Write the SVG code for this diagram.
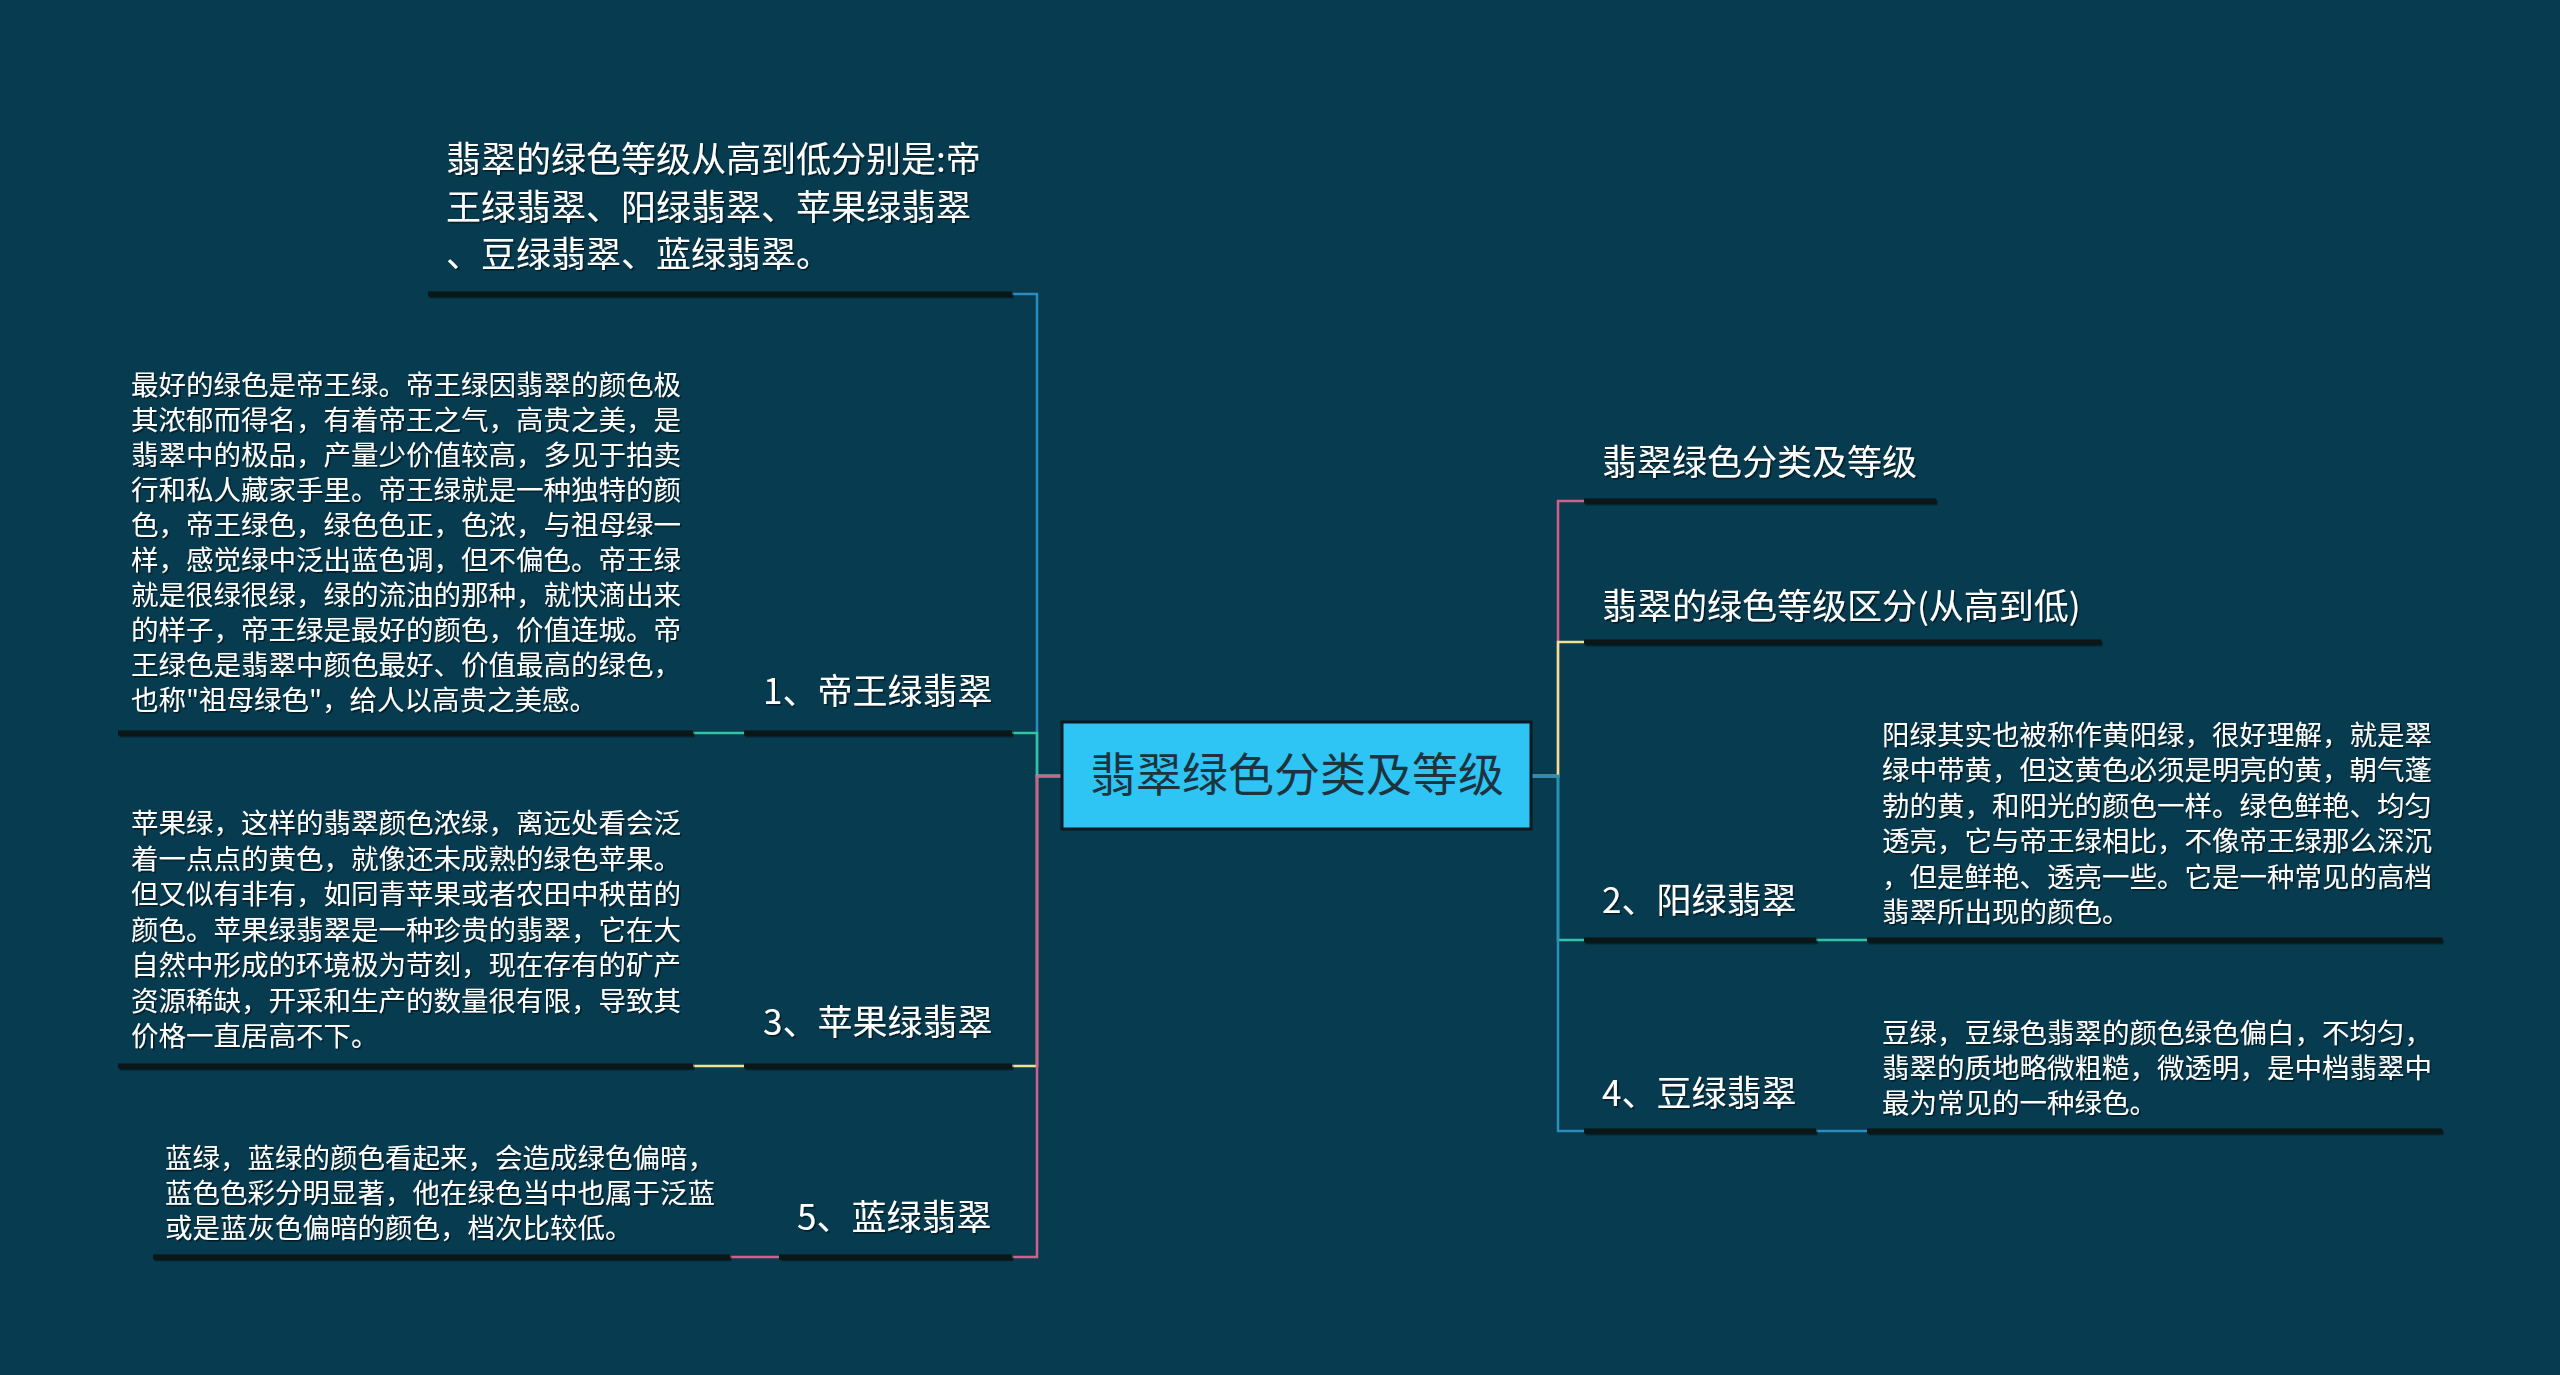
<svg xmlns="http://www.w3.org/2000/svg" width="2560" height="1375" viewBox="0 0 2560 1375">
<defs>
<style>
.t{font-family:"Noto Sans CJK SC","Noto Sans",sans-serif;fill:#ffffff;}
.lab{font-size:35px;}
.desc{font-size:27.5px;}
.ul{stroke:#0b1418;stroke-width:5;fill:none;}
.c{fill:none;stroke-width:2.5;}
.blue{stroke:#2b8dbf;}
.teal{stroke:#33c3a3;}
.yel{stroke:#efe28f;}
.pink{stroke:#d2608c;}
</style>
<filter id="sh" x="-5%" y="-20%" width="110%" height="140%">
<feDropShadow dx="1.5" dy="1.5" stdDeviation="0.6" flood-color="#000" flood-opacity="0.55"/>
</filter>
</defs>
<rect x="0" y="0" width="2560" height="1375" fill="#073b4f"/>

<g id="connectors">
<path class="c blue" d="M1062,776 H1037 V294 H1012"/>
<path class="c teal" d="M1062,776 H1037 V733 H1012 M744,733 H693"/>
<path class="c yel" d="M1062,776 H1037 V1066 H1012 M744,1066 H693"/>
<path class="c pink" d="M1062,776 H1037 V1257 H1012 M779,1257 H730"/>
<path class="c pink" d="M1531,776 H1558 V501 H1584"/>
<path class="c yel" d="M1531,776 H1558 V642 H1584"/>
<path class="c teal" d="M1531,776 H1558 V940 H1584 M1816,940 H1867"/>
<path class="c blue" d="M1531,776 H1558 V1131 H1584 M1816,1131 H1867"/>
</g>

<g id="center">
<rect x="1062" y="722" width="469" height="107" fill="#2ec4f3" stroke="#0b1a22" stroke-width="3"/>
<text x="1297" y="791" text-anchor="middle" font-family="Noto Sans CJK SC, sans-serif" font-size="46" fill="#1d3440">翡翠绿色分类及等级</text>
</g>

<g id="node-summary" filter="url(#sh)">
<text class="t lab"><tspan x="446" y="172">翡翠的绿色等级从高到低分别是:帝</tspan><tspan x="446" y="220">王绿翡翠、阳绿翡翠、苹果绿翡翠</tspan><tspan x="446" y="267">、豆绿翡翠、蓝绿翡翠。</tspan></text>
<line class="ul" x1="428" y1="294" x2="1012" y2="294"/>
</g>

<g id="node-1" filter="url(#sh)">
<text class="t lab" x="763" y="704">1、帝王绿翡翠</text>
<line class="ul" x1="744" y1="733" x2="1012" y2="733"/>
</g>
<g id="desc-1" filter="url(#sh)">
<text class="t desc"><tspan x="131" y="395">最好的绿色是帝王绿。帝王绿因翡翠的颜色极</tspan><tspan x="131" y="430">其浓郁而得名，有着帝王之气，高贵之美，是</tspan><tspan x="131" y="465">翡翠中的极品，产量少价值较高，多见于拍卖</tspan><tspan x="131" y="500">行和私人藏家手里。帝王绿就是一种独特的颜</tspan><tspan x="131" y="535">色，帝王绿色，绿色色正，色浓，与祖母绿一</tspan><tspan x="131" y="570">样，感觉绿中泛出蓝色调，但不偏色。帝王绿</tspan><tspan x="131" y="605">就是很绿很绿，绿的流油的那种，就快滴出来</tspan><tspan x="131" y="640">的样子，帝王绿是最好的颜色，价值连城。帝</tspan><tspan x="131" y="675">王绿色是翡翠中颜色最好、价值最高的绿色，</tspan><tspan x="131" y="710">也称"祖母绿色"，给人以高贵之美感。</tspan></text>
<line class="ul" x1="118" y1="733" x2="693" y2="733"/>
</g>

<g id="node-3" filter="url(#sh)">
<text class="t lab" x="763" y="1035">3、苹果绿翡翠</text>
<line class="ul" x1="744" y1="1066" x2="1012" y2="1066"/>
</g>
<g id="desc-3" filter="url(#sh)">
<text class="t desc"><tspan x="131" y="833">苹果绿，这样的翡翠颜色浓绿，离远处看会泛</tspan><tspan x="131" y="868.5">着一点点的黄色，就像还未成熟的绿色苹果。</tspan><tspan x="131" y="904">但又似有非有，如同青苹果或者农田中秧苗的</tspan><tspan x="131" y="939.5">颜色。苹果绿翡翠是一种珍贵的翡翠，它在大</tspan><tspan x="131" y="975">自然中形成的环境极为苛刻，现在存有的矿产</tspan><tspan x="131" y="1010.5">资源稀缺，开采和生产的数量很有限，导致其</tspan><tspan x="131" y="1046">价格一直居高不下。</tspan></text>
<line class="ul" x1="118" y1="1066" x2="693" y2="1066"/>
</g>

<g id="node-5" filter="url(#sh)">
<text class="t lab" x="797" y="1230">5、蓝绿翡翠</text>
<line class="ul" x1="779" y1="1257" x2="1012" y2="1257"/>
</g>
<g id="desc-5" filter="url(#sh)">
<text class="t desc"><tspan x="165" y="1168">蓝绿，蓝绿的颜色看起来，会造成绿色偏暗，</tspan><tspan x="165" y="1203">蓝色色彩分明显著，他在绿色当中也属于泛蓝</tspan><tspan x="165" y="1238">或是蓝灰色偏暗的颜色，档次比较低。</tspan></text>
<line class="ul" x1="153" y1="1257" x2="730" y2="1257"/>
</g>

<g id="node-title" filter="url(#sh)">
<text class="t lab" x="1602" y="475">翡翠绿色分类及等级</text>
<line class="ul" x1="1584" y1="501" x2="1936" y2="501"/>
</g>

<g id="node-grade" filter="url(#sh)">
<text class="t lab" x="1602" y="619">翡翠的绿色等级区分(从高到低)</text>
<line class="ul" x1="1584" y1="642" x2="2101" y2="642"/>
</g>

<g id="node-2" filter="url(#sh)">
<text class="t lab" x="1602" y="913">2、阳绿翡翠</text>
<line class="ul" x1="1584" y1="940" x2="1816" y2="940"/>
</g>
<g id="desc-2" filter="url(#sh)">
<text class="t desc"><tspan x="1882" y="745">阳绿其实也被称作黄阳绿，很好理解，就是翠</tspan><tspan x="1882" y="780.4">绿中带黄，但这黄色必须是明亮的黄，朝气蓬</tspan><tspan x="1882" y="815.8">勃的黄，和阳光的颜色一样。绿色鲜艳、均匀</tspan><tspan x="1882" y="851.2">透亮，它与帝王绿相比，不像帝王绿那么深沉</tspan><tspan x="1882" y="886.6">，但是鲜艳、透亮一些。它是一种常见的高档</tspan><tspan x="1882" y="922">翡翠所出现的颜色。</tspan></text>
<line class="ul" x1="1867" y1="940" x2="2442" y2="940"/>
</g>

<g id="node-4" filter="url(#sh)">
<text class="t lab" x="1602" y="1106">4、豆绿翡翠</text>
<line class="ul" x1="1584" y1="1131" x2="1816" y2="1131"/>
</g>
<g id="desc-4" filter="url(#sh)">
<text class="t desc"><tspan x="1882" y="1043">豆绿，豆绿色翡翠的颜色绿色偏白，不均匀，</tspan><tspan x="1882" y="1078">翡翠的质地略微粗糙，微透明，是中档翡翠中</tspan><tspan x="1882" y="1113">最为常见的一种绿色。</tspan></text>
<line class="ul" x1="1867" y1="1131" x2="2442" y2="1131"/>
</g>
</svg>
